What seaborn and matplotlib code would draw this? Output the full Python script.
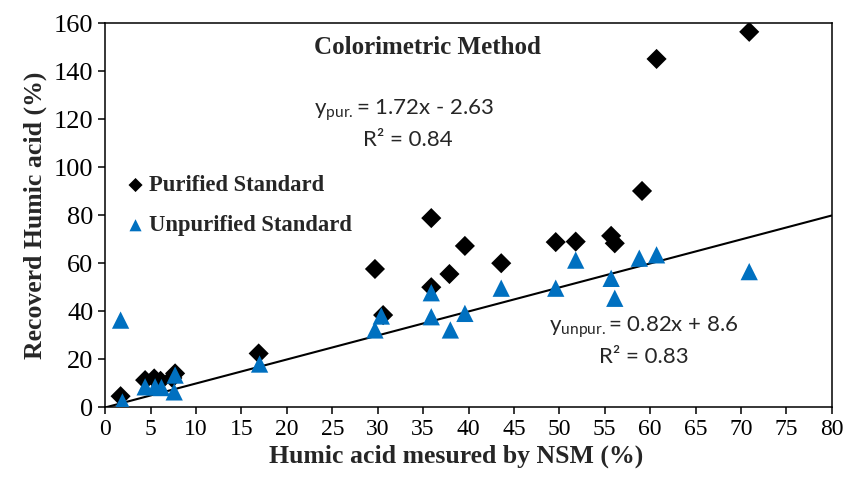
'''
Recovered humic acid vs NSM, colorimetric method
'''
import matplotlib
matplotlib.use('Agg')
import matplotlib.pyplot as plt
import seaborn as sns

# purified standard (diamonds)
pur_x = [1.7, 4.4, 5.4, 6.1, 7.7, 7.4, 16.9, 29.7, 30.6, 35.9, 35.9, 37.9, 39.6,
         43.6, 49.6, 51.8, 55.7, 56.1, 59.1, 60.7, 70.9]
pur_y = [4.7, 11.4, 12.1, 11.1, 14.2, 12.3, 22.5, 57.7, 38.5, 78.9, 50.1, 55.6, 67.3,
         60.1, 68.9, 69.1, 71.5, 68.4, 90.2, 145.2, 156.5]

# unpurified standard (triangles)
unp_x = [1.7, 1.9, 4.4, 5.5, 6.2, 7.7, 7.6, 17.0, 29.7, 30.4, 35.9, 35.9, 38.0,
         39.6, 43.6, 49.6, 51.8, 55.7, 56.1, 58.8, 60.7, 70.9]
unp_y = [36.4, 2.3, 8.6, 8.6, 8.3, 13.5, 6.5, 18.1, 32.3, 38.1, 47.8, 37.8, 32.3,
         39.2, 49.7, 49.7, 61.4, 53.8, 45.5, 62.2, 63.6, 56.6]

# 1:1 line
ref_x = [0, 80]
ref_y = [0, 80]

x_ticks = list(range(0, 81, 5))
y_ticks = list(range(0, 161, 20))

sns.set_style('white')
plt.rcParams['font.family'] = ['Liberation Serif', 'DejaVu Serif']
plt.rcParams['mathtext.default'] = 'regular'

blue = '#0070C0'

fig = plt.figure(figsize=(8.48, 4.88), dpi=100)
ax = fig.add_axes([0.124, 0.165, 0.857, 0.787])

sns.lineplot(x=ref_x, y=ref_y, color='black', linewidth=1.5, ax=ax)
sns.scatterplot(x=pur_x, y=pur_y, marker='D', color='black', s=105,
                edgecolor='none', label='Purified Standard', ax=ax, zorder=3)
sns.scatterplot(x=unp_x, y=unp_y, marker='^', color=blue, s=155,
                edgecolor='none', label='Unpurified Standard', ax=ax, zorder=4)

ax.set_xlim(0, 80)
ax.set_ylim(0, 160)
ax.set_xticks(x_ticks)
ax.set_yticks(y_ticks)
ax.tick_params(axis='both', direction='out', length=5, width=1.1,
               colors='black', bottom=True, left=True)
ax.tick_params(axis='x', labelsize=17)
ax.tick_params(axis='y', labelsize=19)
for sp in ax.spines.values():
    sp.set_color('black')
    sp.set_linewidth(1.1)

ax.set_xlabel('Humic acid mesured by NSM (%)', fontsize=18.5, fontweight='bold',
              labelpad=3)
ax.xaxis.label.set_x(0.483)
ax.set_ylabel('Recoverd Humic acid (%)', fontsize=18.5, fontweight='bold',
              labelpad=5)

ax.text(0.443, 0.938, 'Colorimetric Method', transform=ax.transAxes,
        ha='center', va='center', fontsize=18, fontweight='bold')

eq = dict(transform=ax.transAxes, ha='center', va='center', fontsize=16,
          family='Lato')
ax.text(0.411, 0.774, r'y$_{pur.}$= 1.72x - 2.63', **eq)
ax.text(0.417, 0.696, 'R² = 0.84', **eq)
ax.text(0.741, 0.209, r'y$_{unpur.}$= 0.82x + 8.6', **eq)
ax.text(0.741, 0.131, 'R² = 0.83', **eq)

leg = ax.legend(loc='upper left', bbox_to_anchor=(0.02, 0.629), frameon=False,
                prop={'weight': 'bold', 'size': 16.3}, handlelength=0.6,
                handletextpad=0.3, labelspacing=0.85, markerscale=0.7,
                borderaxespad=0)

fig.savefig('out.png', dpi=100)
